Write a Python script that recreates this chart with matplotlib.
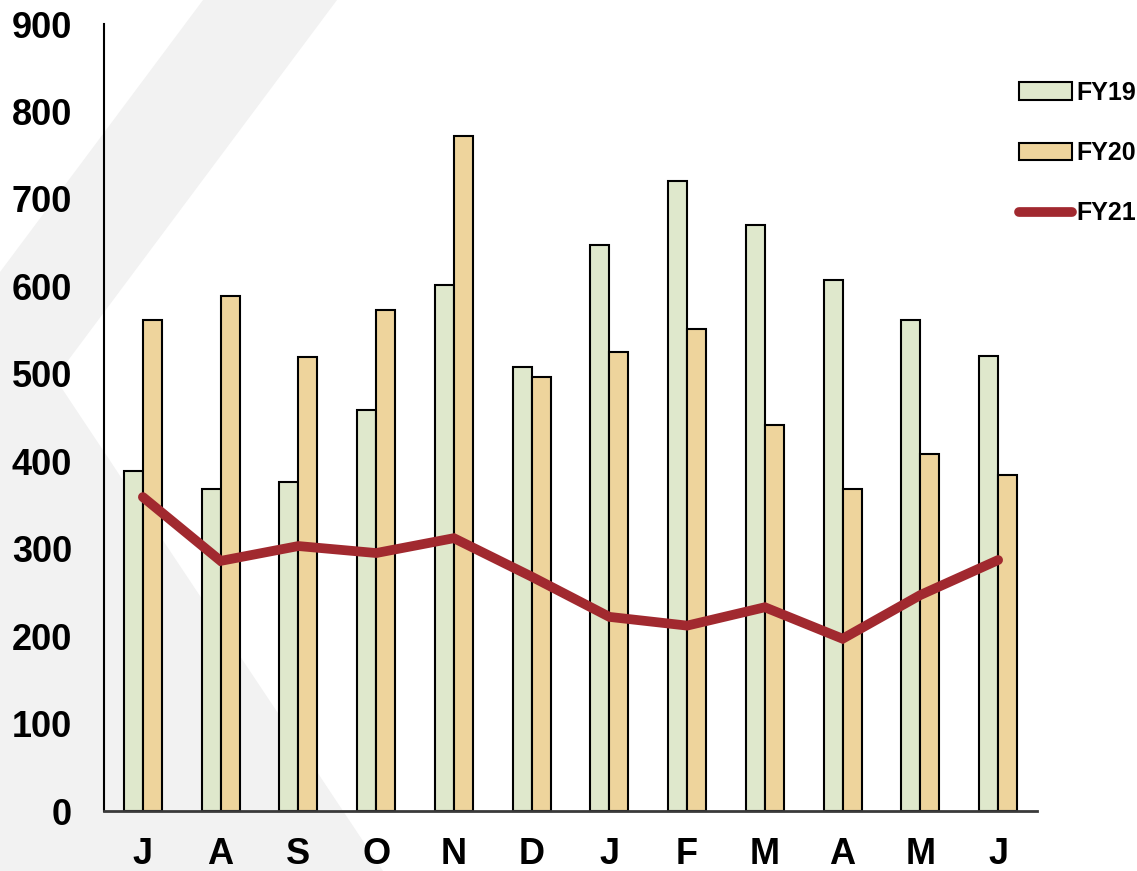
import matplotlib
matplotlib.use("Agg")
import matplotlib.pyplot as plt
from matplotlib.patches import Polygon, Patch
from matplotlib.lines import Line2D
import numpy as np

months = ["J", "A", "S", "O", "N", "D", "J", "F", "M", "A", "M", "J"]
fy19 = [389, 368, 376, 459, 601, 508, 647, 721, 670, 607, 562, 520]
fy20 = [561, 589, 519, 573, 772, 496, 525, 551, 441, 368, 408, 384]
fy21 = [359, 286, 303, 295, 312, 268, 222, 212, 233, 197, 247, 287]
yticks = [0, 100, 200, 300, 400, 500, 600, 700, 800, 900]

green = "#dfe8cc"
tan = "#eed49c"
red = "#a1292f"

plt.rcParams["font.family"] = ["Liberation Sans", "DejaVu Sans"]
plt.rcParams["font.weight"] = "bold"

W, H = 1137, 871
fig = plt.figure(figsize=(W / 100, H / 100), dpi=100)

# light grey chevron behind the chart (pixel outline, y measured from top)
chev = [(203, 0), (337, 0), (55, 378), (383, 871), (0, 871), (0, 272)]
fig.patches.append(Polygon([(x / W, 1 - y / H) for x, y in chev],
                           closed=True, transform=fig.transFigure,
                           facecolor="#f2f2f2", edgecolor="none", zorder=-5))

ax = fig.add_axes([104 / W, 60 / H, 933 / W, 787 / H])
ax.set_facecolor("none")

x = np.arange(len(months)) + 0.5
w = 0.245
ax.bar(x - w / 2, fy19, width=w, color=green, edgecolor="black",
       linewidth=1.5, zorder=2)
ax.bar(x + w / 2, fy20, width=w, color=tan, edgecolor="black",
       linewidth=1.5, zorder=2)
ax.plot(x, fy21, color=red, linewidth=7, solid_capstyle="round",
        solid_joinstyle="miter", zorder=3)

ax.set_xlim(0, 12)
ax.set_ylim(0, 900)
ax.set_yticks(yticks)
ax.set_xticks(x)
ax.set_xticklabels(months)
ax.tick_params(axis="y", length=0, pad=23, labelsize=26)
ax.tick_params(axis="x", length=0, pad=19, labelsize=26)

for s in ["top", "right"]:
    ax.spines[s].set_visible(False)
ax.spines["left"].set_linewidth(1.5)
ax.spines["left"].set_color("black")
ax.spines["bottom"].set_linewidth(2)
ax.spines["bottom"].set_color("#3a3a3a")

handles = [Patch(facecolor=green, edgecolor="black", linewidth=1.5),
           Patch(facecolor=tan, edgecolor="black", linewidth=1.5),
           Line2D([], [], color=red, linewidth=7, solid_capstyle="round")]
fig.legend(handles, ["FY19", "FY20", "FY21"], loc="upper left",
           bbox_to_anchor=(1019 / W, 1 - 81 / H), frameon=False,
           borderpad=0, borderaxespad=0, fontsize=18,
           handlelength=2.1, handletextpad=0.2, labelspacing=1.45)

fig.savefig("out.png", dpi=100)
